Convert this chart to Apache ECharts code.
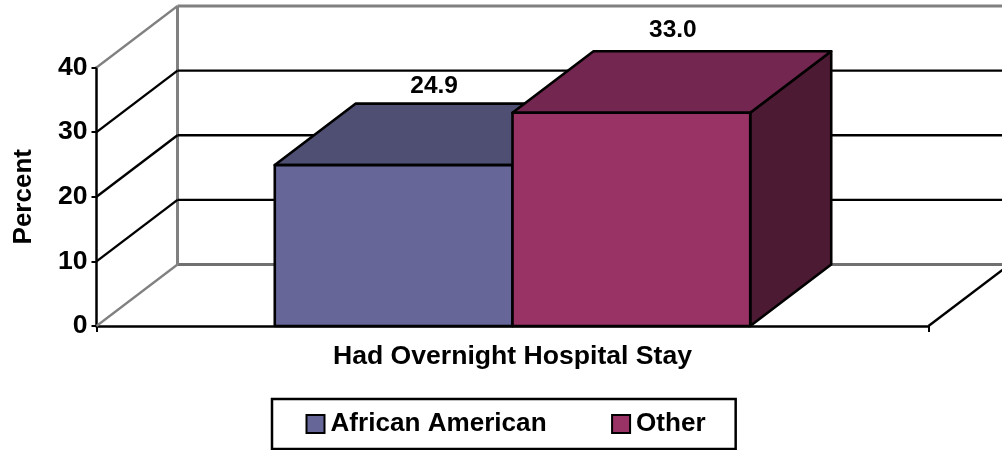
<!DOCTYPE html>
<html><head><meta charset="utf-8">
<style>html,body{margin:0;padding:0;background:#fff}#c{width:1002px;height:450px}</style>
<script src="https://cdn.jsdelivr.net/npm/echarts@6/dist/echarts.min.js"></script></head>
<body><div id="c"></div>
<script>
const categories = ['Had Overnight Hospital Stay'];
const africanAmerican = [24.9];
const other = [33.0];
const yTicks = [0, 10, 20, 30, 40];
const seriesNames = ['African American', 'Other'];
const FONT = '"Liberation Sans", Arial, sans-serif';
const DX = 81, DY = -61.5, WALL_RIGHT = 1040;
const LABEL_GAP = [5, 8];

const palette = [
  {front: '#666699', top: '#4f4f73', side: '#33334d'},
  {front: '#993366', top: '#732650', side: '#4d1a33'}
];

function renderWalls(params, api) {
  const v = api.value(0);
  const p = api.coord([0, v]);
  const gray = v === 0 || v === 40;
  const col = gray ? '#808080' : '#000';
  const w = gray ? 3 : 2.4;
  const x0 = p[0] - api.size([1, 0])[0] / 2;
  const bx = x0 + DX, by = p[1] + DY;
  const kids = [
    {type: 'line', shape: {x1: x0, y1: p[1], x2: bx, y2: by}, style: {stroke: col, lineWidth: gray ? 2.2 : 2.4}},
    {type: 'line', shape: {x1: bx, y1: by, x2: WALL_RIGHT, y2: by}, style: {stroke: v === 0 ? '#707070' : col, lineWidth: w}}
  ];
  if (v === 0) {
    const top = api.coord([0, 40])[1] + DY;
    kids.push({type: 'line', shape: {x1: bx, y1: by, x2: bx, y2: top}, style: {stroke: '#808080', lineWidth: 3}});
    const x1 = x0 + api.size([1, 0])[0];
    kids.push({type: 'line', shape: {x1: x1, y1: p[1], x2: x1 + DX, y2: by}, style: {stroke: '#000', lineWidth: 2.4}});
  }
  return {type: 'group', children: kids};
}

function makeBar(idx) {
  return function (params, api) {
    const cat = api.value(0), val = api.value(1);
    const band = api.size([1, 0])[0];
    const bw = band * 2 / 7;
    const c = api.coord([cat, val]);
    const b = api.coord([cat, 0]);
    const xl = c[0] - bw + idx * bw, xr = xl + bw;
    const yt = c[1], yb = b[1];
    const pal = palette[idx];
    const st = (fill) => ({fill: fill, stroke: '#000', lineWidth: 2.6, lineJoin: 'round'});
    return {type: 'group', children: [
      {type: 'polygon', shape: {points: [[xr, yb], [xr + DX, yb + DY], [xr + DX, yt + DY], [xr, yt]]}, style: st(pal.side)},
      {type: 'polygon', shape: {points: [[xl, yt], [xl + DX, yt + DY], [xr + DX, yt + DY], [xr, yt]]}, style: st(pal.top)},
      {type: 'rect', shape: {x: xl, y: yt, width: bw, height: yb - yt}, style: st(pal.front)},
      {type: 'text', style: {text: val.toFixed(1), x: (xl + xr) / 2 + DX / 2 + idx, y: yt + DY - LABEL_GAP[idx], align: 'center', verticalAlign: 'bottom', fill: '#000', font: 'bold 24.5px ' + FONT}}
    ]};
  };
}

const chart = echarts.init(document.getElementById('c'), null, {renderer: 'canvas'});
chart.setOption({
  animation: false,
  backgroundColor: '#fff',
  grid: {left: 96.5, top: 67.5, width: 832, height: 258.5, containLabel: false},
  xAxis: {
    type: 'category', data: categories, boundaryGap: true,
    axisLine: {lineStyle: {color: '#000', width: 2.5}},
    axisTick: {show: true, length: 6, alignWithLabel: false, lineStyle: {color: '#000', width: 2}},
    axisLabel: {color: '#000', fontFamily: FONT, fontWeight: 'bold', fontSize: 26.6, margin: 17}
  },
  yAxis: {
    type: 'value', min: 0, max: 40, interval: 10,
    name: 'Percent', nameLocation: 'middle', nameGap: 60, nameRotate: 90,
    nameTextStyle: {color: '#000', fontFamily: FONT, fontWeight: 'bold', fontSize: 26},
    axisLine: {show: true, lineStyle: {color: '#000', width: 2.5}},
    axisTick: {show: true, length: 5, lineStyle: {color: '#000', width: 2}},
    splitLine: {show: false},
    axisLabel: {color: '#000', fontFamily: FONT, fontWeight: 'bold', fontSize: 26.6, margin: 9}
  },
  legend: {
    show: true, data: seriesNames, left: 272, top: 399, orient: 'horizontal',
    padding: [12, 30, 12, 33.5], itemGap: 64.5, itemWidth: 18, itemHeight: 18,
    borderColor: '#000', borderWidth: 2.5, icon: 'rect',
    textStyle: {color: '#000', fontFamily: FONT, fontWeight: 'bold', fontSize: 26.1, padding: [0, 0, 0, 1]}
  },
  series: [
    {type: 'custom', name: 'walls', coordinateSystem: 'cartesian2d', z: 1, silent: true,
     renderItem: renderWalls, encode: {y: 0}, data: yTicks.map(v => [v]), clip: false},
    {type: 'custom', name: seriesNames[0], z: 3, renderItem: makeBar(0),
     encode: {x: 0, y: 1}, data: africanAmerican.map((v, i) => [i, v]),
     itemStyle: {color: palette[0].front, borderColor: '#000', borderWidth: 2.5}},
    {type: 'custom', name: seriesNames[1], z: 4, renderItem: makeBar(1),
     encode: {x: 0, y: 1}, data: other.map((v, i) => [i, v]),
     itemStyle: {color: palette[1].front, borderColor: '#000', borderWidth: 2.5}}
  ]
});
</script></body></html>
